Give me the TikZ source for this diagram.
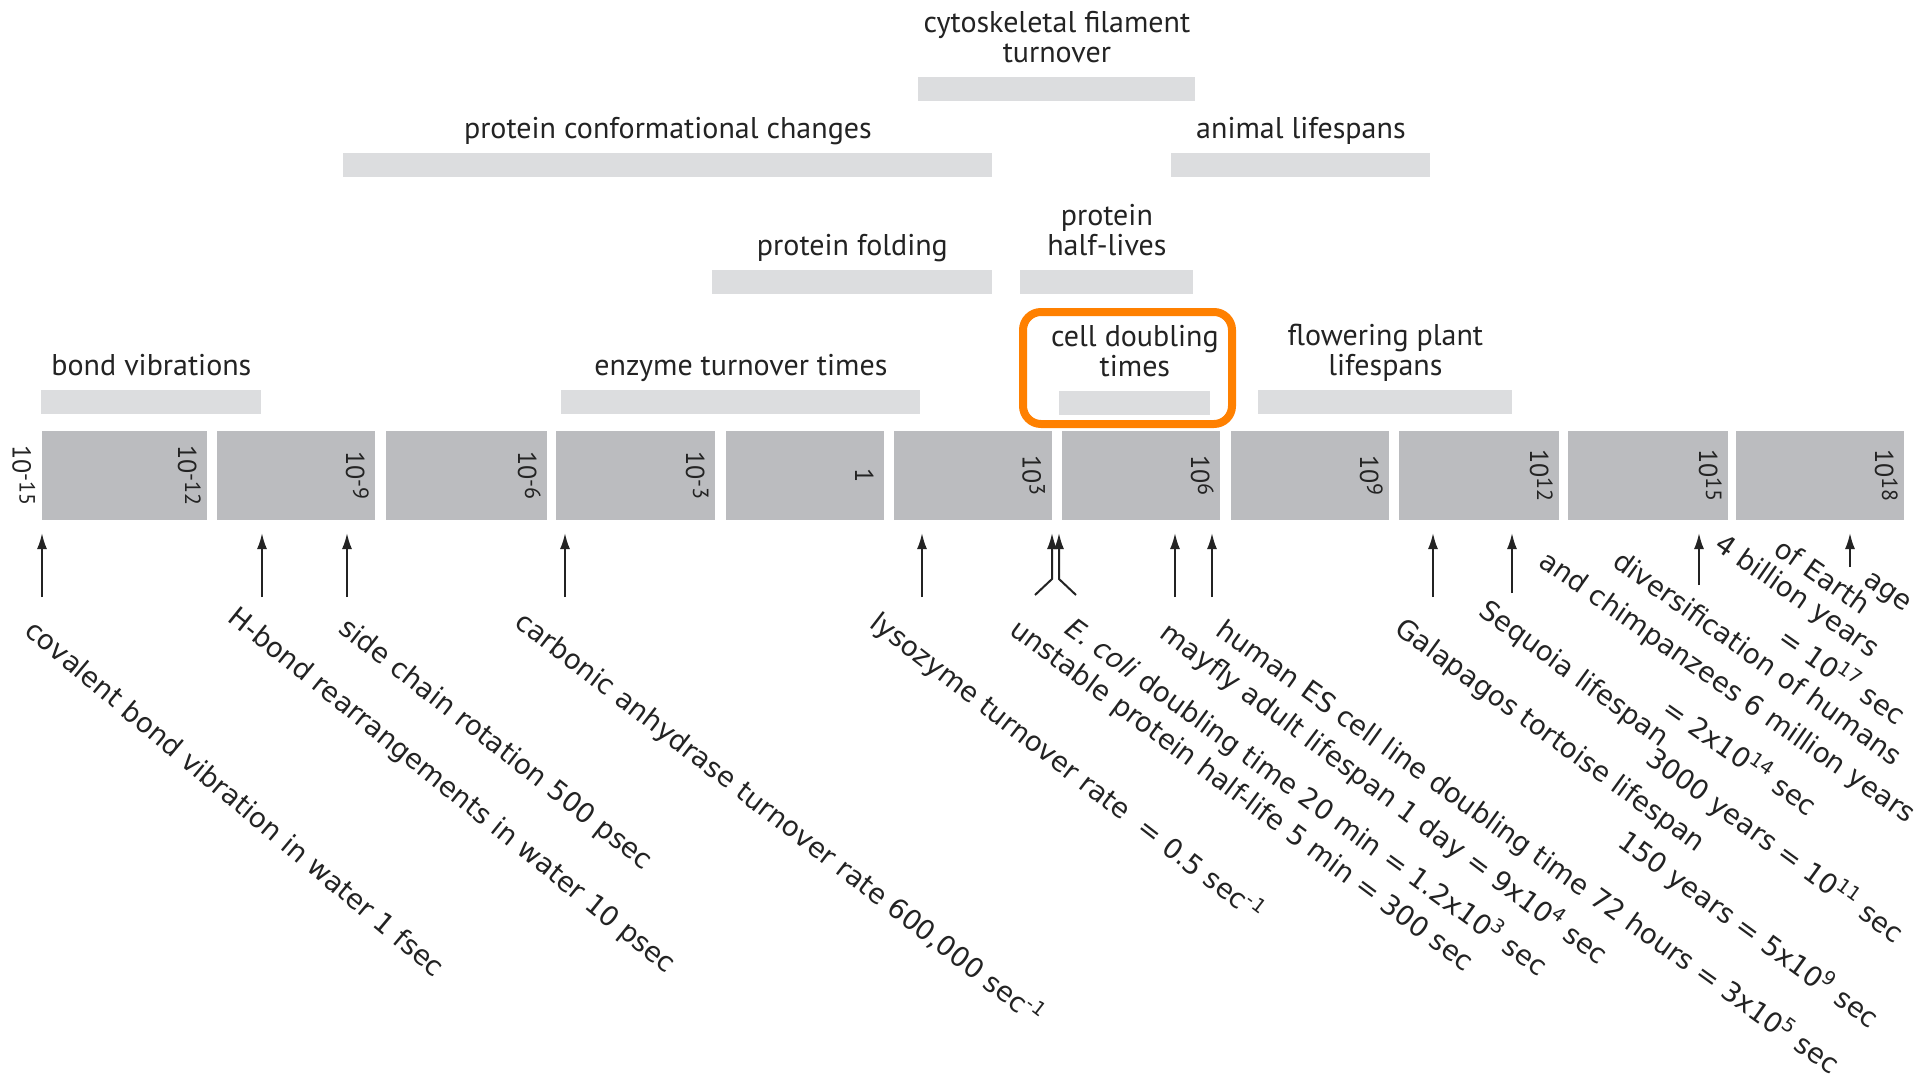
\documentclass[tikz,border=0pt]{standalone}
\usepackage{fontspec}
\setmainfont{PT Sans}
\newfontfamily\eventfont{DejaVu Sans}
\usetikzlibrary{positioning}
\usetikzlibrary{arrows.meta}

\definecolor{decadegray}{RGB}{187,188,191}
\definecolor{rangegray}{RGB}{220,221,223}
\definecolor{focusorange}{RGB}{255,128,0}
\definecolor{ink}{RGB}{35,35,35}

\newcommand{\tenpow}[1]{10\raisebox{3.5pt}{\fontsize{11}{11}\selectfont #1}}

\tikzset{
  decade/.style={fill=decadegray, anchor=north west, inner sep=0pt, minimum height=44.5pt},
  spanbar/.style={fill=rangegray, anchor=north west, inner sep=0pt, minimum height=12pt},
  spanname/.style={align=center, inner sep=0pt, text=ink, font=\fontsize{15}{15}\selectfont,
                   execute at end node={\vphantom{g}}},
  power/.style={rotate=-90, anchor=base, inner sep=0pt, text=ink, font=\fontsize{13}{15}\selectfont},
  event/.style={rotate=-#1, anchor=base west, inner sep=0pt, text=ink, font=\eventfont\fontsize{13.7}{15}\selectfont},
  pointer/.style={draw=ink, line width=1pt, -{Latex[length=8pt,width=5pt]}},
}

\begin{document}
\begin{tikzpicture}[x=0.5pt, y=-0.5pt]
  \useasboundingbox[fill=white] (0,0) rectangle (1929,1086);

  % the time axis, three decades per box
  \foreach \n/\l/\r in {1/41.6/207, 2/217/375, 3/386/547, 4/556/715, 5/726/884, 6/894/1051.5,
                        7/1062/1220, 8/1231/1389, 9/1399/1559, 10/1567.5/1728, 11/1736/1904}
    \node (d\n) [decade, minimum width={(\r-\l)/2}] at (\l,431) {};
  \foreach \x/\p [count=\k] in {41.6/\tenpow{-15}, 207/\tenpow{-12}, 375/\tenpow{-9},
                                547/\tenpow{-6}, 715/\tenpow{-3}, 884/1,
                                1051.5/\tenpow{3}, 1220/\tenpow{6}, 1389/\tenpow{9},
                                1559/\tenpow{12}, 1728/\tenpow{15}, 1904/\tenpow{18}}
    \node (p\k) [power] at (\x-29,475.5) {\p};

  % ranges
  \node (cytobar) [spanbar, minimum width=138.5pt] at (918,77) {};
  \node (cytoname) [spanname, above=4pt of cytobar] {cytoskeletal filament\\turnover};
  \node (confbar) [spanbar, minimum width=324.5pt] at (343,153) {};
  \node (confname) [spanname, above=4pt of confbar] {protein conformational changes};
  \node (animalbar) [spanbar, minimum width=129.5pt] at (1171,153) {};
  \node (animalname) [spanname, above=4pt of animalbar] {animal lifespans};
  \node (foldbar) [spanbar, minimum width=140pt] at (712,270) {};
  \node (foldname) [spanname, above=4pt of foldbar] {protein folding};
  \node (halfbar) [spanbar, minimum width=86.5pt] at (1020,270) {};
  \node (halfname) [spanname, above=4pt of halfbar] {protein\\half-lives};
  \node (bondbar) [spanbar, minimum width=110pt] at (41,390) {};
  \node (bondname) [spanname, above=4pt of bondbar] {bond vibrations};
  \node (enzymebar) [spanbar, minimum width=179.5pt] at (561,390) {};
  \node (enzymename) [spanname, above=4pt of enzymebar] {enzyme turnover times};
  \node (cellbar) [spanbar, minimum width=75.5pt] at (1059,391) {};
  \node (cellname) [spanname, above=4pt of cellbar] {cell doubling\\times};
  \node (plantbar) [spanbar, minimum width=127pt] at (1258,390) {};
  \node (plantname) [spanname, above=4pt of plantbar] {flowering plant\\lifespans};
  \node (focus) [draw=focusorange, line width=4pt, rounded corners=9pt,
                 minimum width=104.5pt, minimum height=56pt] at (1127.5,368) {};

  % events
  \node (covalent) [event=40] at (23,633) {covalent bond vibration in water 1 fsec};
  \node (hbond) [event=38.8] at (226,620) {H-bond rearrangements in water 10 psec};
  \node (sidechain) [event=38] at (337,631) {side chain rotation 500 psec};
  \node (carbonic) [event=37.6] at (513,625) {carbonic anhydrase turnover rate 600,000 sec\textsuperscript{-1}};
  \node (lysozyme) [event=37.6] at (868,626) {lysozyme turnover rate \ = 0.5 sec\textsuperscript{-1}};
  \node (unstable) [event=36.6] at (1008,633) {unstable protein half-life 5 min = 300 sec};
  \node (ecoli) [event=36] at (1063,632) {\textit{E. coli} doubling time 20 min = 1.2x10\textsuperscript{3} sec};
  \node (mayfly) [event=36.8] at (1158,636) {mayfly adult lifespan 1 day = 9x10\textsuperscript{4} sec};
  \node (human) [event=35.6] at (1214,634) {human ES cell line doubling time 72 hours = 3x10\textsuperscript{5} sec};
  \node (tortoise) [event=36] at (1393,632) {Galapagos tortoise lifespan};
  \node (tortoise2) [event=36] at (1616,845) {150 years = 5x10\textsuperscript{9} sec};
  \node (sequoia) [event=36] at (1477,614) {Sequoia lifespan};
  \node (sequoia2) [event=36] at (1644,762) {3000 years = 10\textsuperscript{11} sec};
  \node (split) [event=35.5] at (1611,565) {diversification of humans};
  \node (split2) [event=35] at (1537,565) {and chimpanzees 6 million years};
  \node (split3) [event=35] at (1660,713) {= 2x10\textsuperscript{14} sec};
  \node (earth) [event=35] at (1862,583) {age};
  \node (earth2) [event=35] at (1772,553) {of Earth};
  \node (earth3) [event=35] at (1713,548) {4 billion years};
  \node (earth4) [event=35] at (1776,642) {= 10\textsuperscript{17} sec};

  % pointers up to the axis
  \foreach \x/\t [count=\k] in {42/597, 262/597, 347/597, 565/597, 922/597, 1175/597,
                                1212/597, 1433/597, 1512/593, 1699/585, 1850/567} {
    \coordinate (tail\k) at (\x,\t);
    \coordinate (tip\k) at (\x,533);
    \draw [pointer] (tail\k) -- (tip\k);
  }
  \coordinate (halflifetail) at (1035,595);
  \coordinate (halflifebend) at (1052,579);
  \coordinate (halflifetip) at (1052,533);
  \draw [pointer] (halflifetail) -- (halflifebend) -- (halflifetip);
  \coordinate (ecolitail) at (1076,595);
  \coordinate (ecolibend) at (1059,579);
  \coordinate (ecolitip) at (1059,533);
  \draw [pointer] (ecolitail) -- (ecolibend) -- (ecolitip);
\end{tikzpicture}
\end{document}
